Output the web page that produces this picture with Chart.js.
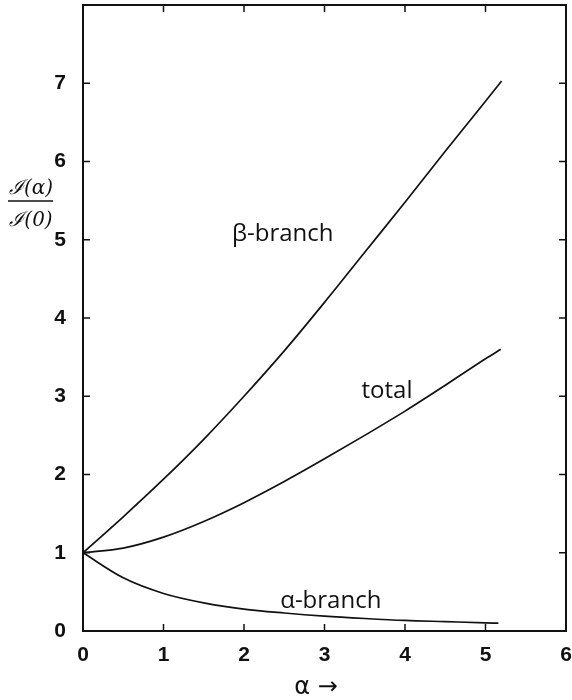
<!DOCTYPE html>
<html>
<head>
<meta charset="utf-8">
<script src="https://cdn.jsdelivr.net/npm/chart.js@4.4.1/dist/chart.umd.min.js"></script>
<style>
html,body{margin:0;padding:0;background:#fff;}
#wrap{width:572px;height:700px;position:relative;}
</style>
</head>
<body>
<div id="wrap"><canvas id="c" width="572" height="700"></canvas></div>
<script>
// ---- data ----
const xTickLabels = ['0','1','2','3','4','5','6'];
const yTickLabels = ['0','1','2','3','4','5','6','7'];

const betaX  = [0, 0.5, 1, 1.5, 2, 2.5, 3, 3.5, 4, 4.5, 5, 5.2];
const betaY  = [1, 1.46, 1.94, 2.45, 3.0, 3.58, 4.2, 4.84, 5.48, 6.13, 6.77, 7.03];

const totalX = [0, 0.5, 1, 1.5, 2, 2.5, 3, 3.5, 4, 4.5, 5, 5.19];
const totalY = [1, 1.06, 1.2, 1.4, 1.64, 1.91, 2.2, 2.5, 2.81, 3.14, 3.48, 3.6];

const alphaX = [0, 0.5, 1, 1.5, 2, 2.5, 3, 3.5, 4, 4.5, 5, 5.16];
const alphaY = [1, 0.68, 0.48, 0.36, 0.28, 0.23, 0.19, 0.16, 0.135, 0.12, 0.105, 0.1];

const curveLabels = [
  {text: 'β-branch', x: 1.85, y: 4.98},
  {text: 'total',    x: 3.46, y: 2.98},
  {text: 'α-branch', x: 2.45, y: 0.29}
];

const pts = (xs, ys) => xs.map((x, i) => ({x: x, y: ys[i]}));

const lineStyle = {
  borderColor: '#111', borderWidth: 1.7, pointRadius: 0, showLine: true,
  fill: false, cubicInterpolationMode: 'monotone'
};

const framePlugin = {
  id: 'frame',
  afterDraw(chart) {
    const ctx = chart.ctx, a = chart.chartArea;
    const xs = chart.scales.x, ys = chart.scales.y;
    ctx.save();
    ctx.strokeStyle = '#111';
    ctx.lineWidth = 2;
    ctx.strokeRect(a.left, a.top, a.right - a.left, a.bottom - a.top);
    ctx.lineWidth = 1.5;
    const tl = 7;
    ctx.beginPath();
    for (let v = 1; v <= 5; v++) {
      const px = xs.getPixelForValue(v);
      ctx.moveTo(px, a.bottom); ctx.lineTo(px, a.bottom - tl);
      ctx.moveTo(px, a.top); ctx.lineTo(px, a.top + tl);
    }
    for (let v = 1; v <= 7; v++) {
      const py = ys.getPixelForValue(v);
      ctx.moveTo(a.left, py); ctx.lineTo(a.left + tl, py);
      ctx.moveTo(a.right, py); ctx.lineTo(a.right - tl, py);
    }
    ctx.stroke();

    // curve labels
    ctx.fillStyle = '#111';
    ctx.font = '24px "Open Sans", sans-serif';
    ctx.textAlign = 'left';
    ctx.textBaseline = 'alphabetic';
    curveLabels.forEach(l => {
      ctx.fillText(l.text, xs.getPixelForValue(l.x), ys.getPixelForValue(l.y));
    });

    // y axis title as fraction
    ctx.font = 'italic 20px "DejaVu Serif", serif';
    ctx.textAlign = 'center';
    ctx.textBaseline = 'middle';
    ctx.fillText('ℐ(α)', 31, 189);
    ctx.fillText('ℐ(0)', 31, 221);
    ctx.lineWidth = 1.6;
    ctx.beginPath();
    ctx.moveTo(8, 201); ctx.lineTo(53, 201);
    ctx.stroke();

    // x axis title
    ctx.font = '24px "DejaVu Sans", sans-serif';
    ctx.textAlign = 'center';
    ctx.fillText('α →', 316, 688);
    ctx.restore();
  }
};

new Chart(document.getElementById('c'), {
  type: 'scatter',
  data: {
    datasets: [
      Object.assign({label: 'β-branch', data: pts(betaX, betaY)}, lineStyle),
      Object.assign({label: 'total', data: pts(totalX, totalY)}, lineStyle),
      Object.assign({label: 'α-branch', data: pts(alphaX, alphaY)}, lineStyle)
    ]
  },
  options: {
    responsive: false,
    animation: false,
    layout: {padding: {top: 5, right: 6, left: 0, bottom: 0}},
    plugins: {legend: {display: false}, tooltip: {enabled: false}},
    scales: {
      x: {
        type: 'linear', min: 0, max: 6,
        afterFit(s) { s.height = 69; s.paddingLeft = 0; s.paddingRight = 0; },
        grid: {drawOnChartArea: false, drawTicks: false, color: 'rgba(0,0,0,0)'},
        border: {display: false},
        ticks: {
          stepSize: 1, padding: 12, color: '#111',
          font: {family: '"Liberation Sans", Arial, sans-serif', size: 21, weight: 'bold'},
          callback: (v) => xTickLabels[v] !== undefined ? xTickLabels[v] : ''
        }
      },
      y: {
        type: 'linear', min: 0, max: 8,
        afterFit(s) { s.width = 83; s.paddingTop = 0; s.paddingBottom = 0; },
        grid: {drawOnChartArea: false, drawTicks: false, color: 'rgba(0,0,0,0)'},
        border: {display: false},
        ticks: {
          stepSize: 1, padding: 17, color: '#111',
          font: {family: '"Liberation Sans", Arial, sans-serif', size: 21, weight: 'bold'},
          callback: (v) => yTickLabels[v] !== undefined ? yTickLabels[v] : ''
        }
      }
    }
  },
  plugins: [framePlugin]
});
</script>
</body>
</html>
